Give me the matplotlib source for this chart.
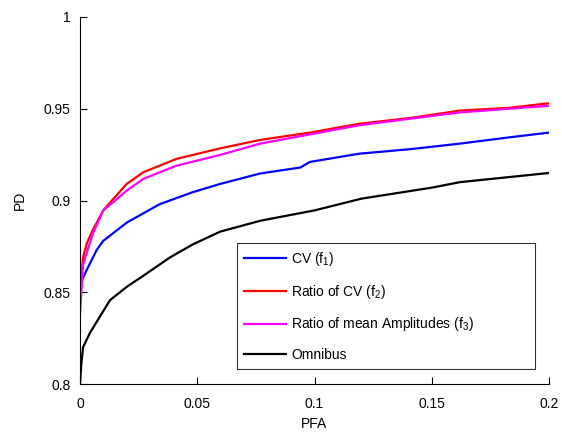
import matplotlib
matplotlib.use("Agg")
import matplotlib.pyplot as plt

plt.rcParams['font.family'] = ['Liberation Sans', 'DejaVu Sans']
plt.rcParams['mathtext.default'] = 'regular'

pfa_blue = [0, 0.001, 0.0028, 0.0071, 0.0099, 0.02, 0.034, 0.048, 0.0597, 0.0768, 0.094, 0.098, 0.119, 0.141, 0.162, 0.183, 0.2]
pd_blue = [0.852, 0.857, 0.862, 0.873, 0.878, 0.888, 0.898, 0.9045, 0.909, 0.9147, 0.918, 0.921, 0.9255, 0.928, 0.931, 0.9344, 0.937]

pfa_red = [0, 0.0013, 0.003, 0.0055, 0.0099, 0.015, 0.0199, 0.027, 0.0412, 0.0597, 0.0768, 0.098, 0.119, 0.141, 0.162, 0.183, 0.2]
pd_red = [0.85, 0.869, 0.877, 0.884, 0.8946, 0.902, 0.909, 0.9154, 0.9227, 0.9284, 0.933, 0.937, 0.9418, 0.945, 0.949, 0.9505, 0.953]

pfa_mag = [0, 0.0013, 0.003, 0.0055, 0.0099, 0.015, 0.0199, 0.027, 0.0412, 0.0597, 0.0768, 0.098, 0.119, 0.141, 0.162, 0.183, 0.2]
pd_mag = [0.838, 0.865, 0.872, 0.882, 0.8946, 0.900, 0.9054, 0.9118, 0.919, 0.9248, 0.931, 0.936, 0.941, 0.9446, 0.948, 0.95, 0.9516]

pfa_black = [0, 0.0005, 0.0013, 0.0043, 0.0128, 0.02, 0.027, 0.0384, 0.048, 0.0597, 0.077, 0.1, 0.12, 0.15, 0.162, 0.2]
pd_black = [0.8, 0.81, 0.82, 0.828, 0.8457, 0.853, 0.859, 0.869, 0.876, 0.8830, 0.889, 0.8946, 0.901, 0.907, 0.91, 0.915]

labels = ['CV (f$_1$)', 'Ratio of CV (f$_2$)', 'Ratio of mean Amplitudes (f$_3$)', 'Omnibus']
xticks = [0, 0.05, 0.1, 0.15, 0.2]
xticklabels = ['0', '0.05', '0.1', '0.15', '0.2']
yticks = [0.8, 0.85, 0.9, 0.95, 1.0]
yticklabels = ['0.8', '0.85', '0.9', '0.95', '1']

fig = plt.figure(figsize=(5.62, 4.32), dpi=100)
ax = fig.add_axes([80/562, 48/432, 469/562, 367/432])

ax.plot(pfa_blue, pd_blue, color='#0000ff', lw=1.6, label=labels[0])
ax.plot(pfa_red, pd_red, color='#ff0000', lw=1.6, label=labels[1])
ax.plot(pfa_mag, pd_mag, color='#ff00ff', lw=1.6, label=labels[2])
ax.plot(pfa_black, pd_black, color='#000000', lw=1.6, label=labels[3])

ax.set_xlim(0, 0.2)
ax.set_ylim(0.8, 1.0)
ax.set_xticks(xticks)
ax.set_xticklabels(xticklabels)
ax.set_yticks(yticks)
ax.set_yticklabels(yticklabels)
ax.tick_params(direction='in', length=5, width=0.8, labelsize=10)
ax.tick_params(axis='x', pad=9)
ax.tick_params(axis='y', pad=7)
ax.spines['top'].set_visible(False)
ax.spines['right'].set_visible(False)
ax.set_xlabel('PFA', fontsize=10, labelpad=5)
ax.set_ylabel('PD', fontsize=10, labelpad=12)

leg = ax.legend(loc='lower left', bbox_to_anchor=(0.335, 0.041, 0.635, 0.354), mode='expand',
                fontsize=10, frameon=True, fancybox=False, edgecolor='black',
                handlelength=3.0, handletextpad=0.4, labelspacing=1.05, borderpad=0.5,
                borderaxespad=0)
leg.get_frame().set_linewidth(0.8)

fig.savefig('out.png', dpi=100)
